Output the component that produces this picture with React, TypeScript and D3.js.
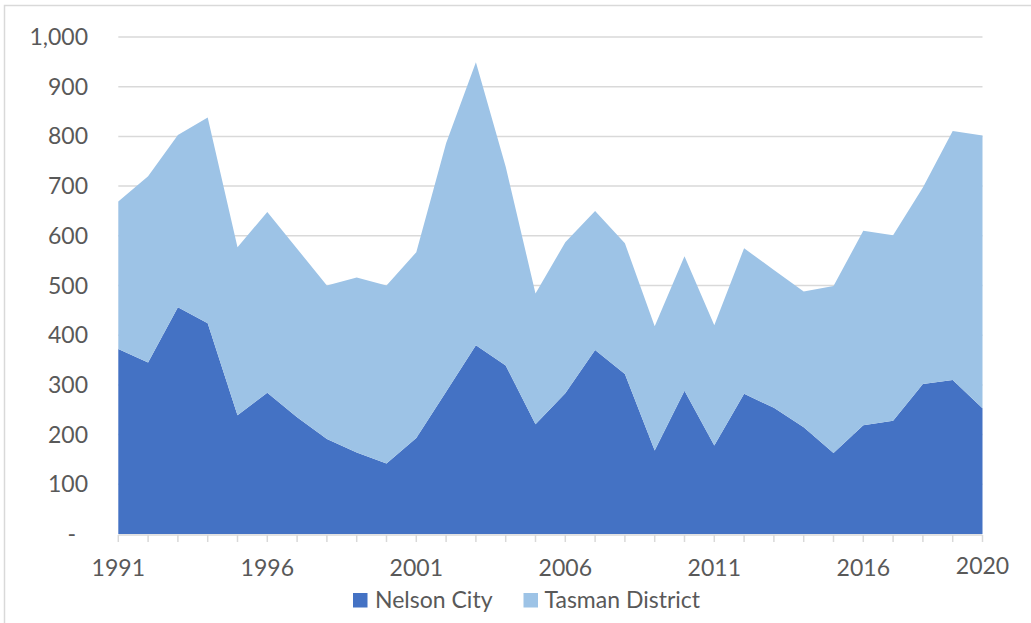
import React from "react";
import * as d3 from "d3";

const years: number[] = d3.range(1991, 2021);
const nelsonCity: number[] = [372, 345, 456, 424, 239, 284, 235, 191, 164, 142, 193, 286, 380, 339, 221, 283, 370, 322, 168, 288, 178, 282, 254, 215, 163, 219, 228, 302, 310, 253];
const tasmanDistrict: number[] = [297, 375, 347, 414, 338, 364, 339, 309, 352, 358, 374, 500, 569, 400, 263, 304, 280, 263, 250, 271, 242, 293, 277, 273, 336, 391, 373, 395, 501, 549];
const seriesNames: string[] = ["Nelson City", "Tasman District"];
const seriesColors: string[] = ["#4472C4", "#9DC3E6"];
const yTicks: number[] = [0, 100, 200, 300, 400, 500, 600, 700, 800, 900, 1000];
const xLabelYears: number[] = [1991, 1996, 2001, 2006, 2011, 2016, 2020];

const W = 1031;
const H = 623;
const FONT = "Lato, 'Open Sans', sans-serif";
const TEXT = "#595959";
const GRID = "#D9D9D9";

export default function App() {
  const x = d3.scaleLinear().domain([1991, 2020]).range([118.3, 982.5]);
  const y = d3.scaleLinear().domain([0, 1000]).range([534, 37]);

  const rows = years.map((yr, i) => ({ year: yr, "Nelson City": nelsonCity[i], "Tasman District": tasmanDistrict[i] }));
  const stack = d3.stack<any>().keys(seriesNames);
  const layers = stack(rows);
  const area = d3
    .area<any>()
    .x((d) => x(d.data.year))
    .y0((d) => y(d[0]))
    .y1((d) => y(d[1]));

  const fmt = d3.format(",");

  return (
    <svg width={W} height={H} style={{ position: "absolute", left: 0, top: 0, background: "#fff" }}>
      <rect x={4.5} y={5.5} width={W + 20} height={H + 20} fill="#fff" stroke={GRID} strokeWidth={1.5} />
      {yTicks.slice(1).map((t) => (
        <line key={t} x1={x(1991)} x2={x(2020)} y1={y(t)} y2={y(t)} stroke={GRID} strokeWidth={1.5} />
      ))}
      {layers.map((layer, i) => (
        <path key={layer.key} d={area(layer as any) || ""} fill={seriesColors[i]} />
      ))}
      <line x1={x(1991)} x2={x(2020)} y1={y(0) + 1} y2={y(0) + 1} stroke={GRID} strokeWidth={1.5} />
      {years.map((yr) => (
        <line key={yr} x1={x(yr)} x2={x(yr)} y1={y(0) + 1} y2={y(0) + 8} stroke={GRID} strokeWidth={1.5} />
      ))}
      {yTicks.map((t) => (
        <text
          key={t}
          x={t === 0 ? 76 : 88}
          y={y(t)}
          dy="0.35em"
          textAnchor="end"
          fontFamily={FONT}
          fontSize={23}
          fill={TEXT}
        >
          {t === 0 ? "-" : fmt(t)}
        </text>
      ))}
      {xLabelYears.map((yr) => (
        <text
          key={yr}
          x={x(yr)}
          y={yr === 2020 ? 566 : 568}
          dy="0.35em"
          textAnchor="middle"
          fontFamily={FONT}
          fontSize={23}
          fill={TEXT}
        >
          {yr}
        </text>
      ))}
      <g>
        <rect x={353} y={593} width={14.5} height={14.5} fill={seriesColors[0]} />
        <text x={375} y={600} dy="0.35em" fontFamily={FONT} fontSize={23} fill={TEXT}>
          {seriesNames[0]}
        </text>
        <rect x={523.5} y={593} width={14.5} height={14.5} fill={seriesColors[1]} />
        <text x={544.5} y={600} dy="0.35em" fontFamily={FONT} fontSize={23} fill={TEXT}>
          {seriesNames[1]}
        </text>
      </g>
    </svg>
  );
}
